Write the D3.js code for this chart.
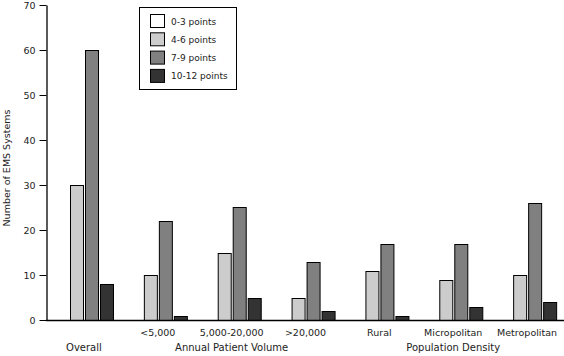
<!DOCTYPE html>
<html>
<head>
<meta charset="utf-8">
<script src="https://cdn.jsdelivr.net/npm/d3@7"></script>
<style>
  html, body { margin: 0; padding: 0; background: #fff; }
  svg { display: block; }
  text { font-family: "DejaVu Sans", Verdana, sans-serif; font-size: 9.5px; fill: #222; }
</style>
</head>
<body>
<svg id="chart" width="564" height="356"></svg>
<script>
const categories = ["Overall", "<5,000", "5,000-20,000", ">20,000", "Rural", "Micropolitan", "Metropolitan"];
const seriesNames = ["0-3 points", "4-6 points", "7-9 points", "10-12 points"];
const pts0to3   = [0, 0, 0, 0, 0, 0, 0];
const pts4to6   = [30, 10, 15, 5, 11, 9, 10];
const pts7to9   = [60, 22, 25, 13, 17, 17, 26];
const pts10to12 = [8, 1, 5, 2, 1, 3, 4];
const seriesColors = ["#ffffff", "#cccccc", "#808080", "#333333"];
const yTicks = [0, 10, 20, 30, 40, 50, 60, 70];
const groupTitles = [
  { label: "Overall", at: "Overall" },
  { label: "Annual Patient Volume", at: "5,000-20,000" },
  { label: "Population Density", at: "Micropolitan" }
];
const yTitle = "Number of EMS Systems";

const allSeries = [pts0to3, pts4to6, pts7to9, pts10to12];
const svg = d3.select("#chart");

const x0 = d3.scaleBand().domain(categories).range([47, 564]).paddingInner(0).paddingOuter(0);
const x1 = d3.scaleBand().domain(seriesNames).range([0, x0.bandwidth()]).paddingInner(0.1).paddingOuter(0.5);
const y = d3.scaleLinear().domain([0, 70]).range([320, 5]);

// bars
const groups = svg.append("g").selectAll("g")
  .data(categories)
  .join("g")
  .attr("transform", d => `translate(${x0(d)},0)`);

groups.selectAll("rect")
  .data((d, i) => seriesNames.map((s, j) => ({ s, v: allSeries[j][i], c: seriesColors[j] })))
  .join("rect")
  .attr("x", d => Math.round(x1(d.s)) + 0.5)
  .attr("y", d => Math.round(y(d.v)) + 0.5)
  .attr("width", Math.round(x1.bandwidth()) - 1)
  .attr("height", d => Math.max(0, Math.round(y(0)) - Math.round(y(d.v))))
  .attr("fill", d => d.c)
  .attr("stroke", "#000")
  .attr("stroke-width", 1);

// y axis
const yAxis = svg.append("g")
  .attr("transform", "translate(46.5,0)")
  .call(d3.axisLeft(y).tickValues(yTicks).tickSize(7).tickPadding(4).tickSizeOuter(0));
yAxis.select(".domain").attr("stroke", "#000").attr("stroke-width", 1.3);
yAxis.selectAll(".tick line").attr("stroke", "#000");
yAxis.selectAll(".tick text").style("font-size", "9.5px").attr("fill", "#222");

// x axis line
svg.append("line")
  .attr("x1", 46).attr("x2", 564)
  .attr("y1", 320.5).attr("y2", 320.5)
  .attr("stroke", "#000").attr("stroke-width", 1.3);

// category labels (row 1)
svg.append("g").selectAll("text")
  .data(categories.filter(c => c !== "Overall"))
  .join("text")
  .attr("x", d => x0(d) + x0.bandwidth() / 2)
  .attr("y", 335.5)
  .attr("text-anchor", "middle")
  .text(d => d);

// group titles (row 2)
svg.append("g").selectAll("text")
  .data(groupTitles)
  .join("text")
  .attr("x", d => x0(d.at) + x0.bandwidth() / 2)
  .attr("y", 351)
  .attr("text-anchor", "middle")
  .style("font-size", "10px")
  .text(d => d.label);

// y title
svg.append("text")
  .attr("transform", "translate(9.5,168) rotate(-90)")
  .attr("text-anchor", "middle")
  .text(yTitle);

// legend
const lg = svg.append("g");
lg.append("rect")
  .attr("x", 139.5).attr("y", 7.5).attr("width", 97).attr("height", 82)
  .attr("fill", "#fff").attr("stroke", "#000").attr("stroke-width", 1);
const items = lg.selectAll("g.item")
  .data(seriesNames)
  .join("g")
  .attr("class", "item")
  .attr("transform", (d, i) => `translate(150.5,${14.5 + i * 18.3})`);
items.append("rect")
  .attr("width", 14).attr("height", 13)
  .attr("fill", (d, i) => seriesColors[i])
  .attr("stroke", "#000").attr("stroke-width", 1);
items.append("text")
  .attr("x", 20.5).attr("y", 10)
  .style("font-size", "9px")
  .text(d => d);
</script>
</body>
</html>
